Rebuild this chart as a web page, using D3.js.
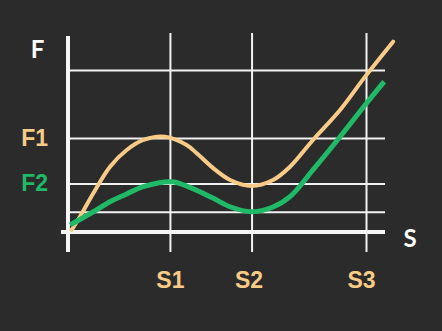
<!DOCTYPE html>
<html lang="en">
<head>
  <meta charset="UTF-8">
  <title>F vs S</title>
  <script src="https://d3js.org/d3.v7.min.js"></script>
  <style>
    html, body { margin: 0; padding: 0; background: #2b2b2b; }
    svg { display: block; font-family: Lato, "Open Sans", sans-serif; font-weight: bold; }
    .grid line { stroke: #f2f2f2; stroke-width: 2; }
    .grid .domain { stroke: none; }
  </style>
</head>
<body>
  <svg class="chart" width="442" height="331"></svg>
  <script>
    // tick positions on the axes (in S / F units)
    const sTicks = [34.2, 61.6, 100];
    const sLabels = ['S1', 'S2', 'S3'];
    const fTicks = [12.5, 30, 58, 100];
    const fLabels = ['', 'F2', 'F1', ''];

    // curve F1
    const f1S = [1.2, 4, 8.5, 14.1, 19.7, 25.3, 32.6, 39.8, 43.2, 48.8, 54.4, 61.6, 68.8, 74.5, 82.2, 91.3, 99.7, 109.1];
    const f1F = [1.2, 9.4, 23.9, 40.3, 50.6, 56.8, 58.8, 53.7, 48.6, 39.3, 32.1, 28.4, 32.1, 40.3, 56.8, 75.3, 95.9, 117.5];

    // curve F2
    const f2S = [0.7, 8.5, 14.1, 19.7, 25.3, 34.8, 40.3, 48.8, 54.4, 61.6, 68.8, 74.5, 82.2, 91.3, 99.7, 106.1];
    const f2F = [4.3, 12.5, 18.7, 23.5, 28.0, 31.0, 28.0, 20.8, 15.6, 12.5, 15.4, 21.8, 38.3, 58.8, 78.4, 92.8];

    const tan = '#f8cb88';
    const green = '#1fb968';
    const labelColors = { F1: tan, F2: green };

    const svg = d3.select('svg.chart');
    const x = d3.scaleLinear().domain([0, 100]).range([68, 366]);
    const y = d3.scaleLinear().domain([0, 100]).range([232, 70]);

    const gridRight = 385;
    const gridTop = 33;
    const gridBottom = 252;

    // horizontal gridlines + F1/F2 labels
    let leftGrid = d3.axisLeft(y)
      .tickValues(fTicks)
      .tickSize(-(gridRight - x(0)))
      .tickPadding(20)
      .tickFormat((d, i) => fLabels[i]);
    let lg = svg.append('g')
      .attr('class', 'grid')
      .attr('transform', `translate(${x(0)},0)`)
      .call(leftGrid);
    lg.selectAll('text')
      .attr('font-size', 23)
      .attr('font-family', null)
      .attr('fill', d => labelColors[fLabels[fTicks.indexOf(d)]] || 'none');

    // vertical gridlines + S labels
    let bottomGrid = d3.axisBottom(x)
      .tickValues(sTicks)
      .tickSize(-(gridBottom - gridTop))
      .tickPadding(20)
      .tickFormat((d, i) => sLabels[i]);
    let bg = svg.append('g')
      .attr('class', 'grid')
      .attr('transform', `translate(0,${gridBottom})`)
      .call(bottomGrid);
    bg.selectAll('text')
      .attr('font-size', 23)
      .attr('font-family', null)
      .attr('fill', tan)
      .attr('dx', (d, i) => [0, -3, -5][i]);

    // main axes
    svg.append('line')
      .attr('x1', x(0)).attr('x2', x(0))
      .attr('y1', 36).attr('y2', gridBottom)
      .attr('stroke', '#f5f5f5').attr('stroke-width', 4);
    svg.append('line')
      .attr('x1', x(0) - 7).attr('x2', gridRight)
      .attr('y1', y(0)).attr('y2', y(0))
      .attr('stroke', '#f5f5f5').attr('stroke-width', 4);

    svg.append('text')
      .attr('x', 37.5).attr('y', 58)
      .attr('text-anchor', 'middle')
      .attr('font-size', 24)
      .attr('fill', '#ffffff')
      .text('F');
    svg.append('text')
      .attr('x', 410).attr('y', 247)
      .attr('text-anchor', 'middle')
      .attr('font-size', 24)
      .attr('fill', '#ffffff')
      .text('S');

    // curves
    const line = d3.line()
      .x(d => x(d[0]))
      .y(d => y(d[1]))
      .curve(d3.curveCatmullRom.alpha(0.5));

    svg.append('path')
      .datum(d3.zip(f1S, f1F))
      .attr('d', line)
      .attr('fill', 'none')
      .attr('stroke', tan)
      .attr('stroke-width', 4)
      .attr('stroke-linecap', 'round');

    svg.append('path')
      .datum(d3.zip(f2S, f2F))
      .attr('d', line)
      .attr('fill', 'none')
      .attr('stroke', green)
      .attr('stroke-width', 5)
      .attr('stroke-linecap', 'butt');
  </script>
</body>
</html>
